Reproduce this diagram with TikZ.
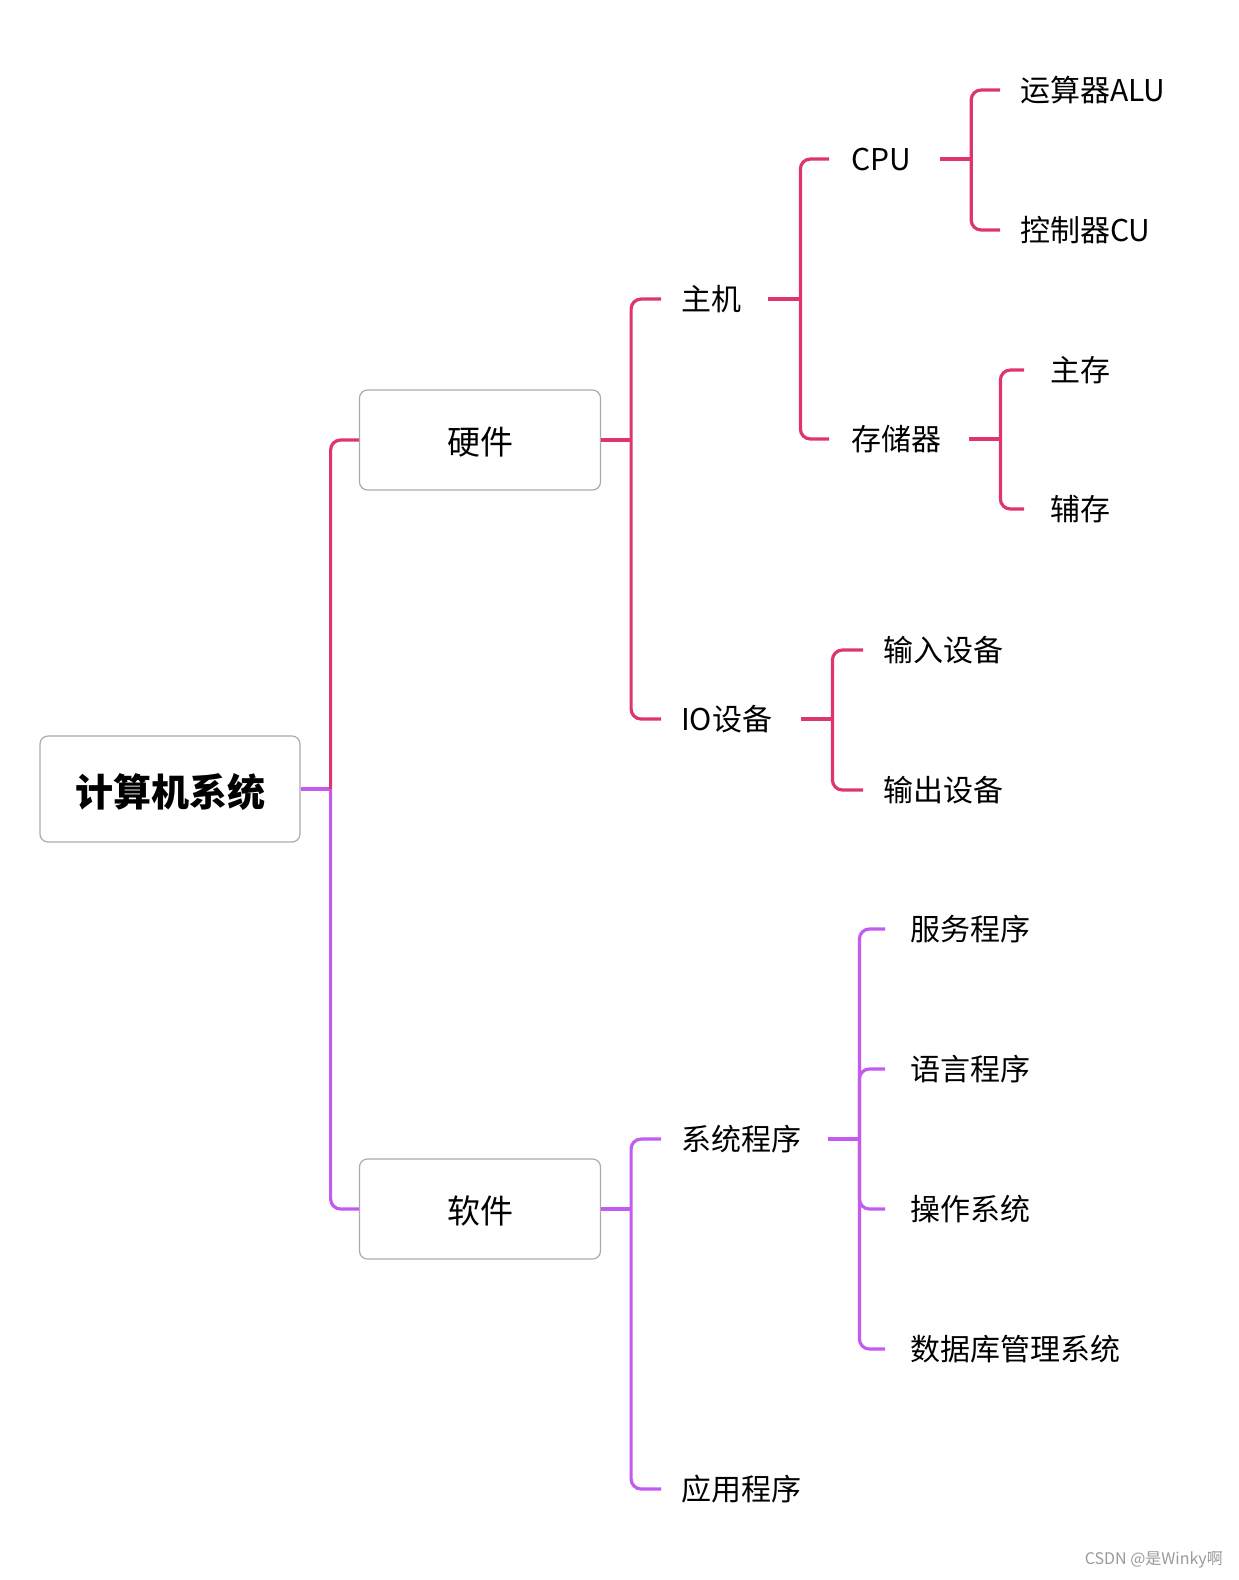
\documentclass[tikz,border=0pt]{standalone}
\usepackage{fontspec}
\setmainfont{Noto Sans CJK SC}
\usetikzlibrary{positioning}
\definecolor{HardPink}{HTML}{DE3470}
\definecolor{SoftPurple}{HTML}{C35BF0}
\definecolor{BoxGray}{HTML}{ABABAB}
\definecolor{MarkGray}{HTML}{9A9A9A}

\begin{document}
\begin{tikzpicture}[x=1pt,y=-1pt]
\tikzset{
  rootbox/.style={draw=BoxGray,line width=1.2pt,rounded corners=8pt,fill=white,minimum width=260pt,minimum height=106pt,text height=35pt,text depth=0pt,font=\bfseries\fontsize{38}{40}\selectfont},
  mainbox/.style={draw=BoxGray,line width=1.2pt,rounded corners=8pt,fill=white,minimum width=241pt,minimum height=100pt,text height=29pt,text depth=0pt,font=\fontsize{33}{35}\selectfont},
  topic/.style={anchor=west,inner sep=0pt,text height=23pt,text depth=0pt,font=\fontsize{30}{32}\selectfont},
  hwline/.style={draw=HardPink,line width=3.2pt},
  swline/.style={draw=SoftPurple,line width=3.2pt},
  branch/.style={rounded corners=10pt}
}
\useasboundingbox (0,0) rectangle (1239,1580);

% boxes
\node[rootbox] (root) at (170,789) {计算机系统};
\node[mainbox] (hw) at (480,440) {硬件};
\node[mainbox] (sw) at (480,1209) {软件};

% hardware side
\node[topic] (host) at (681,299) {主机};
\node[topic] (io) at (681,719) {IO设备};
\node[topic] (cpu) at (851,159) {CPU};
\node[topic] (mem) at (851,439) {存储器};
\node[topic] (alu) at (1020,90) {运算器ALU};
\node[topic] (cu) at (1020,230) {控制器CU};
\node[topic] (mainmem) at (1050,370) {主存};
\node[topic] (auxmem) at (1050,509) {辅存};
\node[topic] (inp) at (883,650) {输入设备};
\node[topic] (outp) at (883,790) {输出设备};

% software side
\node[topic] (sysprog) at (681,1139) {系统程序};
\node[topic] (appprog) at (681,1489) {应用程序};
\node[topic] (svc) at (910,929) {服务程序};
\node[topic] (lang) at (910,1069) {语言程序};
\node[topic] (os) at (910,1209) {操作系统};
\node[topic] (dbms) at (910,1349) {数据库管理系统};

% root
\draw[swline] (root.east) -- ++(30,0) coordinate (j0);
\draw[hwline,branch] (j0) |- (hw.west);
\draw[swline,branch] (j0) |- (sw.west);

% hardware
\draw[hwline] (hw.east) -- ++(30,0) coordinate (j1);
\draw[hwline,branch] (j1) |- ([xshift=-20pt]host.west);
\draw[hwline,branch] (j1) |- ([xshift=-20pt]io.west);

\draw[hwline] ([xshift=27pt]host.east) -- ++(32,0) coordinate (j2);
\draw[hwline,branch] (j2) |- ([xshift=-22pt]cpu.west);
\draw[hwline,branch] (j2) |- ([xshift=-22pt]mem.west);

\draw[hwline] ([xshift=29pt]cpu.east) -- ++(31,0) coordinate (j3);
\draw[hwline,branch] (j3) |- ([xshift=-20pt]alu.west);
\draw[hwline,branch] (j3) |- ([xshift=-20pt]cu.west);

\draw[hwline] ([xshift=28pt]mem.east) -- ++(31,0) coordinate (j4);
\draw[hwline,branch] (j4) |- ([xshift=-26pt]mainmem.west);
\draw[hwline,branch] (j4) |- ([xshift=-26pt]auxmem.west);

\draw[hwline] ([xshift=29pt]io.east) -- ++(31,0) coordinate (j5);
\draw[hwline,branch] (j5) |- ([xshift=-20pt]inp.west);
\draw[hwline,branch] (j5) |- ([xshift=-20pt]outp.west);

% software
\draw[swline] (sw.east) -- ++(30,0) coordinate (j6);
\draw[swline,branch] (j6) |- ([xshift=-20pt]sysprog.west);
\draw[swline,branch] (j6) |- ([xshift=-20pt]appprog.west);

\draw[swline] ([xshift=27pt]sysprog.east) -- ++(31,0) coordinate (j7);
\draw[swline,branch] (j7) |- ([xshift=-25pt]svc.west);
\draw[swline,branch] (j7) |- ([xshift=-25pt]lang.west);
\draw[swline,branch] (j7) |- ([xshift=-25pt]os.west);
\draw[swline,branch] (j7) |- ([xshift=-25pt]dbms.west);

% watermark
\node[anchor=east,inner sep=0pt,text=MarkGray,font=\fontsize{16}{17}\selectfont] (mark) at (1223,1560) {CSDN @是Winky啊};
\end{tikzpicture}
\end{document}
